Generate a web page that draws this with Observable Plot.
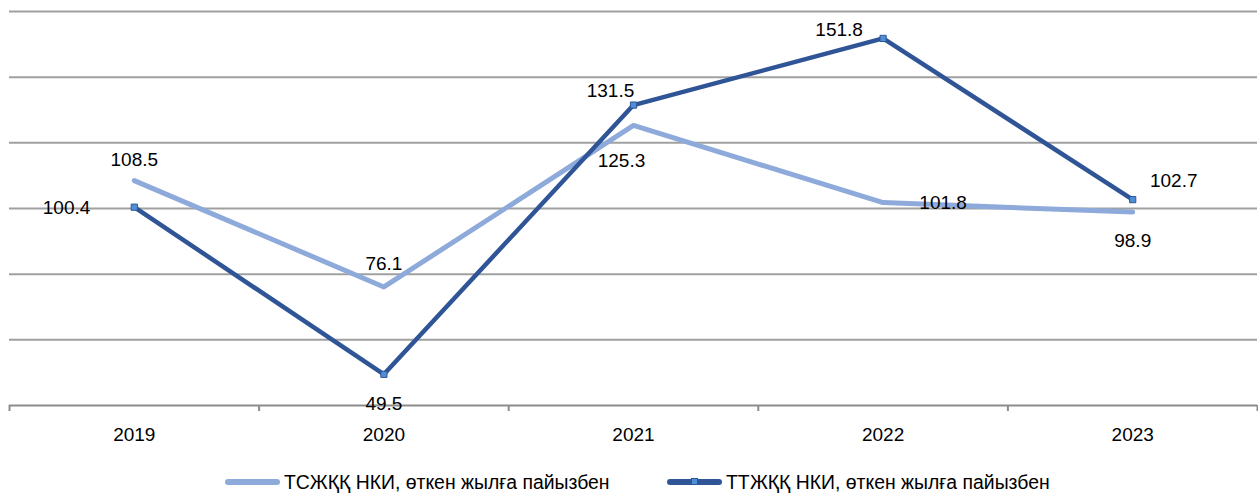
<!DOCTYPE html>
<html>
<head>
<meta charset="utf-8">
<script src="https://cdn.jsdelivr.net/npm/d3@7"></script>
<script src="https://cdn.jsdelivr.net/npm/@observablehq/plot@0.6"></script>
<style>
  body { margin: 0; background: #fff; font-family: "Liberation Sans", "DejaVu Sans", sans-serif; overflow: hidden; }
  #chart svg { display: block; }
  .legend { position: relative; height: 39px; font-size: 19.4px; color: #000; }
  .item { display: flex; align-items: center; position: absolute; top: 16px; height: 22px; }
  .swatch { width: 55px; height: 6px; border-radius: 3px; margin-right: 4px; position: relative; }
  .mk { position: absolute; left: 24px; top: -1px; width: 7px; height: 7px; background: #4f8fd6; border: 1px solid #2f5597; box-sizing: border-box; }
</style>
</head>
<body>
<div id="chart"></div>
<div class="legend">
  <div class="item" style="left:225px;"><div class="swatch" style="background:#8eaadb"></div><span id="l1"></span></div>
  <div class="item" style="left:667px;"><div class="swatch" style="background:#2f5597"><div class="mk"></div></div><span id="l2"></span></div>
</div>
<script>
const years = [2019, 2020, 2021, 2022, 2023];
const seriesNames = ["ТСЖҚҚ НКИ, өткен жылға пайызбен", "ТТЖҚҚ НКИ, өткен жылға пайызбен"];
const tszhqq = [108.5, 76.1, 125.3, 101.8, 98.9];
const ttzhqq = [100.4, 49.5, 131.5, 151.8, 102.7];
const gridValues = [60, 80, 100, 120, 140, 160];

document.getElementById("l1").textContent = seriesNames[0];
document.getElementById("l2").textContent = seriesNames[1];

const light = years.map((y, i) => ({year: y, value: tszhqq[i], series: seriesNames[0]}));
const dark = years.map((y, i) => ({year: y, value: ttzhqq[i], series: seriesNames[1]}));

// label placement offsets [dx, dy, anchor]
const lightPlace = [[0, -21, "middle"], [0, -23, "middle"], [-12, 35, "middle"], [60, 0, "middle"], [0, 29, "middle"]];
const darkPlace = [[-44, 1, "end"], [0, 30, "middle"], [-23, -14, "middle"], [-44, -9, "middle"], [41, -19, "middle"]];

const labelFont = 19;
const labelMarks = [];
light.forEach((d, i) => labelMarks.push(Plot.text([d], {x: "year", y: "value", text: d => d.value.toFixed(1), dx: lightPlace[i][0], dy: lightPlace[i][1], textAnchor: lightPlace[i][2], fontSize: labelFont, fill: "#000"})));
dark.forEach((d, i) => labelMarks.push(Plot.text([d], {x: "year", y: "value", text: d => d.value.toFixed(1), dx: darkPlace[i][0], dy: darkPlace[i][1], textAnchor: darkPlace[i][2], fontSize: labelFont, fill: "#000"})));

const boundaries = d3.range(years[0] - 0.5, years[years.length - 1] + 1, 1);

const plot = Plot.plot({
  width: 1258,
  height: 455,
  marginLeft: 9,
  marginRight: 1,
  marginTop: 11,
  marginBottom: 50,
  style: {fontFamily: "Liberation Sans, DejaVu Sans, sans-serif", fontSize: "19px", color: "#000"},
  x: {domain: [years[0] - 0.5, years[years.length - 1] + 0.5], axis: null},
  y: {domain: [40, 160], axis: null},
  marks: [
    Plot.ruleY(gridValues, {stroke: "#a0a0a0", strokeWidth: 2}),
    Plot.ruleY([40], {stroke: "#8c8c8c", strokeWidth: 2}),
    Plot.axisX({ticks: boundaries, tickSize: 6, tickFormat: () => "", label: null, stroke: "#8c8c8c", strokeWidth: 2}),
    Plot.axisX({ticks: years, tickSize: 0, tickFormat: d => String(d), label: null, tickPadding: 22, fontSize: 19, fill: "#000"}),
    Plot.line(light, {x: "year", y: "value", stroke: "#8eaadb", strokeWidth: 5, strokeLinejoin: "round", strokeLinecap: "round"}),
    Plot.line(dark, {x: "year", y: "value", stroke: "#2f5597", strokeWidth: 4.5, strokeLinejoin: "miter"}),
    Plot.dot(dark, {x: "year", y: "value", symbol: "square", r: 3.5, fill: "#4f8fd6", stroke: "#2f5597", strokeWidth: 1}),
    ...labelMarks
  ]
});
document.getElementById("chart").appendChild(plot);
</script>
</body>
</html>
